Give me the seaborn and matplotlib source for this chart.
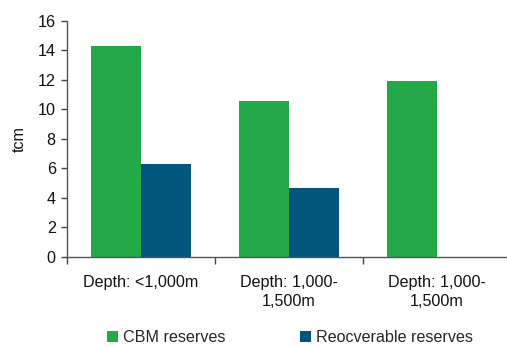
import matplotlib
matplotlib.use("Agg")
import matplotlib.pyplot as plt
import matplotlib.ticker as mticker
import numpy as np
import pandas as pd
import seaborn as sns

categories = ["Depth: <1,000m", "Depth: 1,000-\n1,500m", "Depth: 1,000-\n1,500m"]
cbm_reserves = [14.3, 10.6, 11.9]
recoverable_reserves = [6.3, 4.7, np.nan]
series_names = ["CBM reserves", "Reocverable reserves"]
colors = ["#23A947", "#00567C"]
y_ticks = [0, 2, 4, 6, 8, 10, 12, 14, 16]

sns.set_theme(style="white")
plt.rcParams["font.family"] = ["Liberation Sans", "DejaVu Sans"]
FS = 11.6

rows = []
for i in range(len(categories)):
    rows.append({"group": i, "series": series_names[0], "value": cbm_reserves[i]})
    rows.append({"group": i, "series": series_names[1], "value": recoverable_reserves[i]})
df = pd.DataFrame(rows)

fig = plt.figure(figsize=(5.07, 3.47), dpi=100)
ax = fig.add_axes([0.1321, 0.2594, 0.8679, 0.6801])

sns.barplot(data=df, x="group", y="value", hue="series", hue_order=series_names,
            palette=colors, width=0.676, saturation=1, ax=ax, errorbar=None,
            linewidth=0, edgecolor="none")

ax.set_ylim(0, 16)
ax.set_xlim(-0.5, 2.473)
ax.set_yticks(y_ticks)
ax.set_yticklabels([str(t) for t in y_ticks], fontsize=FS, color="#111111")
ax.set_ylabel("tcm", fontsize=FS, color="#111111", labelpad=8)
ax.set_xlabel("")

# tick marks at category boundaries, labels at category centres
ax.xaxis.set_major_locator(mticker.FixedLocator([-0.5, 0.5, 1.5]))
ax.xaxis.set_major_formatter(mticker.NullFormatter())
ax.xaxis.set_minor_locator(mticker.FixedLocator(range(len(categories))))
ax.xaxis.set_minor_formatter(mticker.FixedFormatter(categories))
ax.tick_params(axis="x", which="major", direction="out", length=5, width=1,
               color="#444444", bottom=True)
ax.tick_params(axis="x", which="minor", length=0, pad=13, labelsize=FS,
               labelcolor="#111111", bottom=True)
for lbl in ax.get_xticklabels(minor=True):
    lbl.set_linespacing(1.3)
ax.tick_params(axis="y", direction="out", length=4, width=1, color="#444444",
               pad=4, left=True)

for side in ["top", "right"]:
    ax.spines[side].set_visible(False)
for side in ["left", "bottom"]:
    ax.spines[side].set_color("#555555")
    ax.spines[side].set_linewidth(1.0)

handles, labels = ax.get_legend_handles_labels()
ax.get_legend().remove()
fig.legend(handles, labels, loc="center", bbox_to_anchor=(0.572, 0.028), ncol=2,
           frameon=False, fontsize=FS, handlelength=0.7, handleheight=0.7,
           handletextpad=0.3, columnspacing=4.6, borderaxespad=0)

fig.savefig("out.png", dpi=100)
